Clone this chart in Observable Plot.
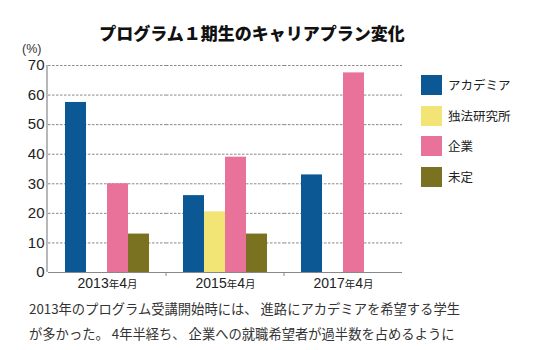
<!DOCTYPE html>
<html><head><meta charset="utf-8">
<script src="https://cdn.jsdelivr.net/npm/d3@7"></script>
<script src="https://cdn.jsdelivr.net/npm/@observablehq/plot@0.6"></script>
<style>
body{margin:0;background:#fff;font-family:"Liberation Sans","Noto Sans CJK JP",sans-serif;color:#222}
#wrap{position:relative;width:540px;height:350px;overflow:hidden}
#title{position:absolute;left:0;width:504px;top:21px;text-align:center;font-family:"Noto Sans CJK JP",sans-serif;font-weight:900;font-size:17px;line-height:24px;color:#111}
#unit{position:absolute;left:22px;top:43px;font-size:12.5px;line-height:12px;color:#333}
#chart{position:absolute;left:0;top:40px}
#legend{position:absolute;left:421px;top:75px}
.li{position:relative;height:30.5px}
.sw{position:absolute;left:0;top:0;width:21px;height:20px}
.lt{position:absolute;left:27px;top:0;line-height:20px;font-family:"Noto Sans CJK JP",sans-serif;font-size:12.5px;color:#222;white-space:nowrap}
#caption{position:absolute;left:29px;top:297px;font-family:"Noto Sans CJK JP",sans-serif;font-size:13.3px;line-height:24.5px;color:#333;white-space:nowrap}
</style></head>
<body>
<div id="wrap">
  <div id="title"></div>
  <div id="unit"></div>
  <div id="chart"></div>
  <div id="legend"></div>
  <div id="caption"></div>
</div>
<script>
const titleText = "プログラム１期生のキャリアプラン変化";
const unitText = "(%)";
const years = ["2013年4月", "2015年4月", "2017年4月"];
const series = ["アカデミア", "独法研究所", "企業", "未定"];
const academia = [57.5, 26, 33];
const dokuho = [null, 20.5, null];
const kigyo = [30, 39, 67.5];
const mitei = [13, 13, null];
const colors = ["#0b5895", "#f2e575", "#e8729a", "#7a7220"];
const yTicks = [0, 10, 20, 30, 40, 50, 60, 70];
const captionLines = [
  "2013年のプログラム受講開始時には、 進路にアカデミアを希望する学生",
  "が多かった。 4年半経ち、 企業への就職希望者が過半数を占めるように"
];

const valuesBySeries = [academia, dokuho, kigyo, mitei];
const rows = [];
years.forEach((yr, i) => {
  series.forEach((s, j) => {
    const v = valuesBySeries[j][i];
    if (v != null) rows.push({year: yr, series: s, value: v});
  });
});

document.getElementById("title").textContent = titleText;
document.getElementById("unit").textContent = unitText;
document.getElementById("caption").innerHTML = captionLines.map(l => `<div>${l}</div>`).join("");
document.getElementById("legend").innerHTML = series.map((s, i) =>
  `<div class="li"><div class="sw" style="background:${colors[i]}"></div><div class="lt">${s}</div></div>`).join("");

const plot = Plot.plot({
  width: 540,
  height: 255,
  marginTop: 25,
  marginBottom: 23,
  marginLeft: 47,
  marginRight: 137,
  style: {fontFamily: "'Liberation Sans','Noto Sans CJK JP',sans-serif", color: "#222", background: "transparent"},
  fx: {domain: years, padding: 0, label: null, axis: null},
  x: {domain: series, paddingInner: 0, paddingOuter: 0.77, axis: null},
  y: {domain: [0, 70], label: null, axis: null},
  color: {domain: series, range: colors},
  marks: [
    Plot.ruleY(yTicks.filter(d => d > 0), {stroke: "#8a8a8a", strokeDasharray: "2.5,1.5", strokeWidth: 1}),
    Plot.barY(rows, {fx: "year", x: "series", y: "value", fill: "series"}),
    Plot.ruleY([0], {stroke: "#888", strokeWidth: 1.2}),
    Plot.axisY({ticks: yTicks, tickSize: 0, tickPadding: 4, fontSize: 15, label: null}),
    Plot.axisFx({domain: years, anchor: "bottom", tickSize: 0, tickPadding: 6, fontSize: 14, label: null})
  ]
});
document.getElementById("chart").appendChild(plot);

// axis line on the left and small ticks at group boundaries, positioned from the plot's scales
const svg = d3.select(plot);
const fx = plot.scale("fx");
const y = plot.scale("y");
const x0 = fx.range[0];
svg.append("line").attr("x1", x0).attr("x2", x0).attr("y1", y.apply(0)).attr("y2", y.apply(70))
  .attr("stroke", "#888").attr("stroke-width", 1.2);
years.slice(1).forEach(yr => {
  const bx = fx.apply(yr);
  svg.append("line").attr("x1", bx).attr("x2", bx).attr("y1", y.apply(0)).attr("y2", y.apply(0) + 4)
    .attr("stroke", "#888");
});

// smaller 年 / 月 in the year tick labels
svg.selectAll("text").each(function() {
  const t = this.textContent;
  if (!years.includes(t)) return;
  const el = d3.select(this);
  el.text(null);
  const parts = t.match(/\d+|[^\d]+/g);
  parts.forEach(p => {
    el.append("tspan").attr("font-size", /\d/.test(p) ? 14 : 10.5).text(p);
  });
});
</script>
</body></html>
